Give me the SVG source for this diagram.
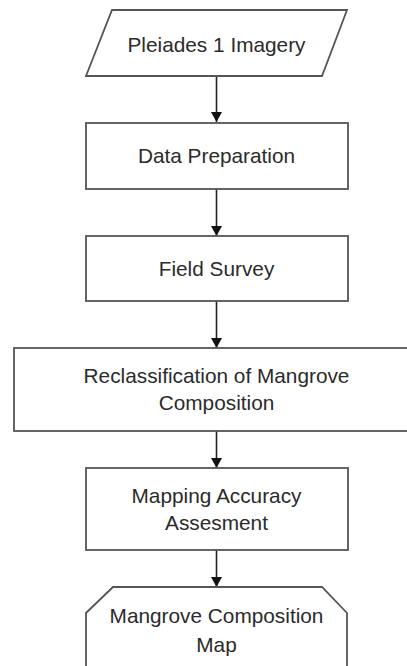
<svg xmlns="http://www.w3.org/2000/svg" width="407" height="666" viewBox="0 0 407 666">
  <style>
    .shape { fill: #ffffff; stroke: #555555; stroke-width: 1.8; stroke-linejoin: miter; }
    .label { font-family: "Liberation Sans", Arial, sans-serif; font-size: 20.8px; fill: #2b2b2b; text-anchor: middle; }
    .edge { stroke: #222222; stroke-width: 1.6; fill: none; marker-end: url(#arrow); }
  </style>
  <defs>
    <marker id="arrow" viewBox="0 0 10 11" refX="10" refY="5.5" markerWidth="10" markerHeight="11" markerUnits="userSpaceOnUse" orient="auto">
      <path d="M0,0 L10,5.5 L0,11 Z" fill="#111111"/>
    </marker>
  </defs>
  <rect width="407" height="666" fill="#ffffff"/>

  <g id="connectors">
    <line class="edge" x1="216.5" y1="76" x2="216.5" y2="122"/>
    <line class="edge" x1="216.5" y1="189" x2="216.5" y2="236"/>
    <line class="edge" x1="216.5" y1="301" x2="216.5" y2="348"/>
    <line class="edge" x1="216.5" y1="431" x2="216.5" y2="468"/>
    <line class="edge" x1="216.5" y1="550" x2="216.5" y2="587"/>
  </g>

  <g id="pleiades-imagery">
    <polygon class="shape" points="112,10 347,10 322,76 86,76"/>
    <text class="label" x="216.5" y="52">Pleiades 1 Imagery</text>
  </g>

  <g id="data-preparation">
    <rect class="shape" x="86" y="123" width="262" height="66"/>
    <text class="label" x="216.5" y="163">Data Preparation</text>
  </g>

  <g id="field-survey">
    <rect class="shape" x="86" y="236" width="262" height="65"/>
    <text class="label" x="216.5" y="276">Field Survey</text>
  </g>

  <g id="reclassification">
    <rect class="shape" x="14" y="348" width="410" height="83"/>
    <text class="label" x="216.5" y="383">Reclassification of Mangrove</text>
    <text class="label" x="216.5" y="410">Composition</text>
  </g>

  <g id="accuracy-assessment">
    <rect class="shape" x="86" y="468" width="262" height="82"/>
    <text class="label" x="216.5" y="503">Mapping Accuracy</text>
    <text class="label" x="216.5" y="530">Assesment</text>
  </g>

  <g id="composition-map">
    <polygon class="shape" points="86,680 86,613 113,587 322,587 347,613 347,680"/>
    <text class="label" x="216.5" y="623">Mangrove Composition</text>
    <text class="label" x="216.5" y="652">Map</text>
  </g>
</svg>
